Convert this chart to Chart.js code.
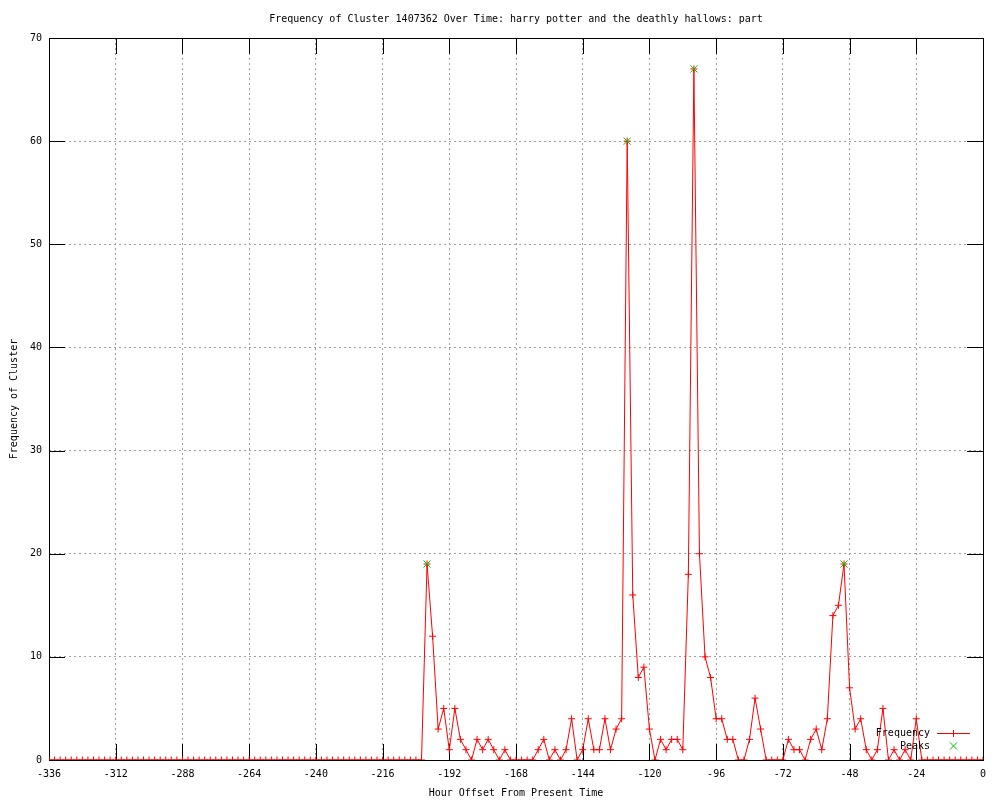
<!DOCTYPE html>
<html>
<head>
<meta charset="utf-8">
<script src="https://cdn.jsdelivr.net/npm/chart.js@4/dist/chart.umd.min.js"></script>
<style>
    body { margin: 0; background: #fff; }
    canvas { display: block; }
</style>
</head>
<body>
<canvas id="cluster" width="1000" height="800"></canvas>
<script>
// hour offsets, one row per day
var hours = [
    -336, -334, -332, -330, -328, -326, -324, -322, -320, -318, -316, -314,
    -312, -310, -308, -306, -304, -302, -300, -298, -296, -294, -292, -290,
    -288, -286, -284, -282, -280, -278, -276, -274, -272, -270, -268, -266,
    -264, -262, -260, -258, -256, -254, -252, -250, -248, -246, -244, -242,
    -240, -238, -236, -234, -232, -230, -228, -226, -224, -222, -220, -218,
    -216, -214, -212, -210, -208, -206, -204, -202, -200, -198, -196, -194,
    -192, -190, -188, -186, -184, -182, -180, -178, -176, -174, -172, -170,
    -168, -166, -164, -162, -160, -158, -156, -154, -152, -150, -148, -146,
    -144, -142, -140, -138, -136, -134, -132, -130, -128, -126, -124, -122,
    -120, -118, -116, -114, -112, -110, -108, -106, -104, -102, -100, -98,
    -96, -94, -92, -90, -88, -86, -84, -82, -80, -78, -76, -74,
    -72, -70, -68, -66, -64, -62, -60, -58, -56, -54, -52, -50,
    -48, -46, -44, -42, -40, -38, -36, -34, -32, -30, -28, -26,
    -24, -22, -20, -18, -16, -14, -12, -10, -8, -6, -4, -2,
    0
];
var frequency = [
    0, 0, 0, 0, 0, 0, 0, 0, 0, 0, 0, 0,
    0, 0, 0, 0, 0, 0, 0, 0, 0, 0, 0, 0,
    0, 0, 0, 0, 0, 0, 0, 0, 0, 0, 0, 0,
    0, 0, 0, 0, 0, 0, 0, 0, 0, 0, 0, 0,
    0, 0, 0, 0, 0, 0, 0, 0, 0, 0, 0, 0,
    0, 0, 0, 0, 0, 0, 0, 0, 19, 12, 3, 5,
    1, 5, 2, 1, 0, 2, 1, 2, 1, 0, 1, 0,
    0, 0, 0, 0, 1, 2, 0, 1, 0, 1, 4, 0,
    1, 4, 1, 1, 4, 1, 3, 4, 60, 16, 8, 9,
    3, 0, 2, 1, 2, 2, 1, 18, 67, 20, 10, 8,
    4, 4, 2, 2, 0, 0, 2, 6, 3, 0, 0, 0,
    0, 2, 1, 1, 0, 2, 3, 1, 4, 14, 15, 19,
    7, 3, 4, 1, 0, 1, 5, 0, 1, 0, 1, 0,
    4, 0, 0, 0, 0, 0, 0, 0, 0, 0, 0, 0,
    0
];
var peakHours = [-200, -128, -104, -50];
var peakValues = [19, 60, 67, 19];

var xTicks = [-336, -312, -288, -264, -240, -216, -192, -168, -144, -120, -96, -72, -48, -24, 0];
var yTicks = [0, 10, 20, 30, 40, 50, 60, 70];

var titleText = "Frequency of Cluster 1407362 Over Time: harry potter and the deathly hallows: part";

Chart.defaults.font.family = "'DejaVu Sans Mono', monospace";
Chart.defaults.font.size = 10;
Chart.defaults.color = "#000";

var freqPoints = hours.map(function (h, i) { return { x: h, y: frequency[i] }; });
var peakPoints = peakHours.map(function (h, i) { return { x: h, y: peakValues[i] }; });

// gnuplot style frame: full border, inward tick marks on all sides, legend
var frame = {
    id: "frame",
    beforeDatasetsDraw: function (chart) {
        var c = chart.ctx, a = chart.chartArea;
        var xs = chart.scales.x, ys = chart.scales.y;
        c.save();
        c.setLineDash([]);
        c.strokeStyle = "#000";
        c.lineWidth = 1;
        c.beginPath();
        xTicks.forEach(function (t) {
            var px = Math.round(xs.getPixelForValue(t)) + 0.5;
            c.moveTo(px, a.bottom); c.lineTo(px, a.bottom - 16);
            c.moveTo(px, a.top); c.lineTo(px, a.top + 16);
        });
        yTicks.forEach(function (t) {
            var py = Math.round(ys.getPixelForValue(t)) + 0.5;
            c.moveTo(a.left, py); c.lineTo(a.left + 16, py);
            c.moveTo(a.right, py); c.lineTo(a.right - 16, py);
        });
        c.stroke();
        c.strokeRect(Math.round(a.left) + 0.5, Math.round(a.top) + 0.5,
            Math.round(a.right - a.left), Math.round(a.bottom - a.top));
        c.restore();
    },
    afterDraw: function (chart) {
        var c = chart.ctx, a = chart.chartArea;
        var ds = chart.data.datasets;
        c.save();
        c.setLineDash([]);
        c.font = "10px 'DejaVu Sans Mono', monospace";
        c.fillStyle = "#000";
        c.textAlign = "center";
        c.textBaseline = "middle";
        c.fillText(titleText, (a.left + a.right) / 2, 19);

        // legend
        c.textAlign = "right";
        c.fillText(ds[0].label, 930, 733);
        c.fillText(ds[1].label, 930, 746);
        c.lineWidth = 1;
        c.strokeStyle = ds[0].borderColor;
        c.beginPath();
        c.moveTo(937, 733.5); c.lineTo(970, 733.5);
        c.moveTo(953.5, 730); c.lineTo(953.5, 737);
        c.stroke();
        c.strokeStyle = ds[1].pointBorderColor;
        c.beginPath();
        c.moveTo(950, 742.5); c.lineTo(957, 749.5);
        c.moveTo(957, 742.5); c.lineTo(950, 749.5);
        c.stroke();
        c.restore();
    }
};

var chart = new Chart(document.getElementById("cluster"), {
    type: "line",
    data: {
        datasets: [
            {
                label: "Frequency",
                data: freqPoints,
                borderColor: "#ff0000",
                borderWidth: 1,
                pointStyle: "cross",
                pointRadius: 3.5,
                pointBorderColor: "#ff0000",
                pointBorderWidth: 1,
                tension: 0,
                order: 2,
            },
            {
                label: "Peaks",
                data: peakPoints,
                showLine: false,
                pointStyle: "crossRot",
                pointRadius: 5,
                pointBorderColor: "#00c000",
                pointBorderWidth: 1,
                order: 1,
            },
        ],
    },
    options: {
        responsive: false,
        animation: false,
        layout: { padding: { top: 38, right: 17, left: 0, bottom: 0 } },
        plugins: {
            legend: { display: false },
            tooltip: { enabled: false },
            title: { display: false },
        },
        scales: {
            x: {
                type: "linear",
                min: -336,
                max: 0,
                afterBuildTicks: function (s) { s.ticks = xTicks.map(function (v) { return { value: v }; }); },
                afterFit: function (s) { s.height = 40; },
                ticks: { padding: 8, maxRotation: 0, autoSkip: false, callback: function (v) { return String(v); } },
                grid: { color: "#a0a0a0", drawTicks: false },
                border: { display: false, dash: [2, 3] },
                title: { display: true, text: "Hour Offset From Present Time", padding: { top: 0, bottom: 1 } },
            },
            y: {
                min: 0,
                max: 70,
                afterBuildTicks: function (s) { s.ticks = yTicks.map(function (v) { return { value: v }; }); },
                afterFit: function (s) { s.width = 49; },
                ticks: { padding: 7 },
                grid: { color: "#a0a0a0", drawTicks: false },
                border: { display: false, dash: [2, 3] },
                title: { display: true, text: "Frequency of Cluster", padding: { top: 8, bottom: 0 } },
            },
        },
    },
    plugins: [frame],
});
</script>
</body>
</html>
